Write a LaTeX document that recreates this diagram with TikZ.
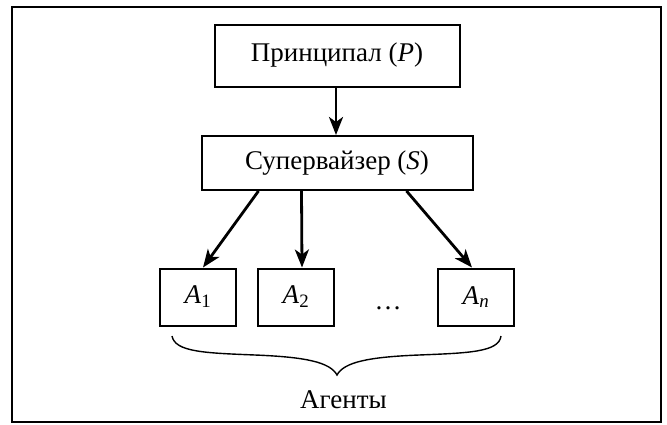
\documentclass[tikz,border=0pt]{standalone}
\usepackage{fontspec}
\setmainfont{Liberation Serif}
\usetikzlibrary{arrows.meta}

\tikzset{
  box/.style={draw, line width=2pt, inner sep=0pt, font=\fontsize{27}{32}\selectfont},
  agentbox/.style={box, minimum width=76pt, minimum height=57pt},
  link/.style={line width=2.8pt, -{Stealth[length=18pt, width=14pt, inset=5pt]}},
}
\newcommand{\agent}[1]{\textit{A}\textsubscript{#1}}

\begin{document}
\begin{tikzpicture}[x=1pt, y=-1pt]
  \useasboundingbox (0,0) rectangle (667,424);
  % рамка
  \draw[line width=2.4pt] (12,7) rectangle (661,422);

  % уровни иерархии
  \node[box, minimum width=245pt, minimum height=62pt] (P) at (337,55.5) {Принципал (\textit{P})};
  \node[box, minimum width=271pt, minimum height=54pt] (S) at (337,163) {Супервайзер (\textit{S})};
  \node[agentbox] (A1) at (198,297) {\agent{1}};
  \node[agentbox] (A2) at (296,297) {\agent{2}};
  \node[agentbox] (An) at (476,297) {\agent{\textit{n}}};
  \node[font=\fontsize{27}{32}\selectfont, anchor=base] (dots) at (388,309) {\dots};

  % стрелки
  \draw[link] ([xshift=-1pt]P.south) -- ([xshift=-1pt]S.north);
  \draw[link] ([xshift=58pt]S.south west) -- ([xshift=5pt]A1.north);
  \draw[link] ([xshift=101pt]S.south west) -- ([xshift=6pt]A2.north);
  \draw[link] ([xshift=206pt]S.south west) -- ([xshift=-4pt]An.north);

  % фигурная скобка
  \coordinate (brL) at (172,336);
  \coordinate (brT) at (337,375);
  \coordinate (brR) at (501,336);
  \draw[line width=1.4pt] (brL) .. controls (175,352) and (205,353) .. (255,355)
    .. controls (305,357) and (330,362) .. (brT)
    .. controls (344,362) and (369,357) .. (419,355)
    .. controls (469,353) and (499,352) .. (brR);
  \node[font=\fontsize{27}{32}\selectfont] (agents) at (343.5,400) {Агенты};
\end{tikzpicture}
\end{document}
